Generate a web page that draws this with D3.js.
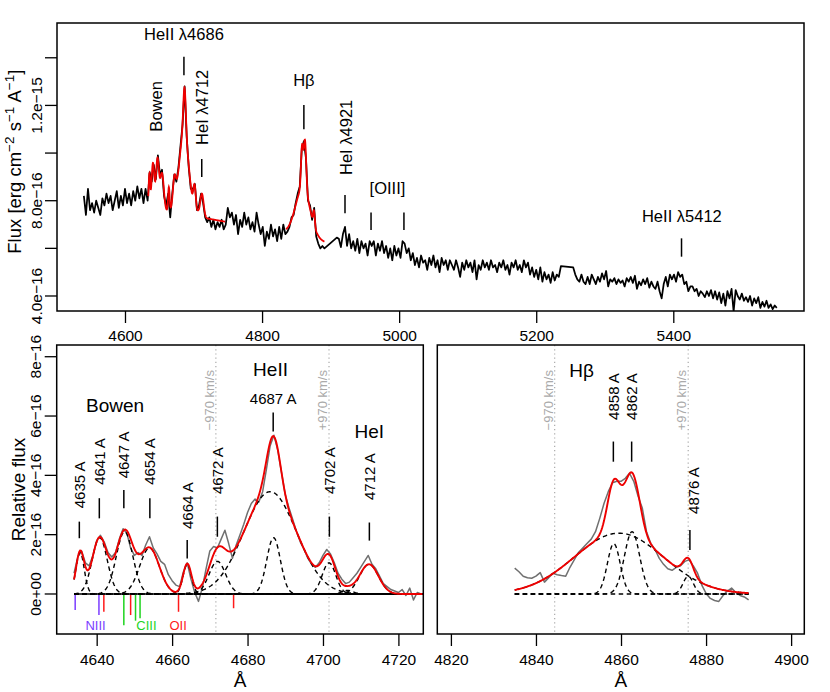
<!DOCTYPE html>
<html><head><meta charset="utf-8">
<script src="https://cdn.jsdelivr.net/npm/d3@7"></script>
<style>
body{margin:0;background:#fff;}
svg text{font-family:"Liberation Sans",Arial,Helvetica,sans-serif;fill:#000;}
</style></head><body>
<svg id="c" width="830" height="692"></svg>
<script>
// ---------------- DATA (flux in units of 1e-16) ----------------
// Top panel: observed spectrum, segments sampled every 3 A
const specStep = 3;
const specStarts = [4540, 4633, 4750, 4837, 4909, 5254];
const specSeg1 = [8.2,7.4,8.5,7.6,7.9,7.5,8.0,7.7,7.4,8.1,7.8,8.3,7.9,8.2,7.6,8.0,8.4,7.7,8.2,7.8,8.5,7.9,8.3,7.8,8.4,8.0,8.6,8.1,8.5,7.9,8.5];
const specSeg2 = [8.0,9.2,8.8,9.5,8.9,9.9,9.1,9.3,8.2,7.8,8.3,7.3,8.3,9.1,8.8,9.4,10.3,11.2,12.8,10.7,9.4,8.5,8.5,8.7,7.6,7.8,8.3,7.9,7.3,7.1,7.3,6.9,7.2,6.8,7.1,6.9,7.2,6.8,7.0];
const specSeg3 = [7.7,7.3,7.5,7.0,7.4,6.6,7.2,6.9,7.5,7.0,7.3,6.8,7.1,6.7,7.5,7.0,6.6,6.9,6.1,6.7,6.4,7.0,6.5,6.8,6.3,6.9,6.4,7.0,6.6];
const specSeg4 = [6.7,6.9,7.3,7.4,7.9,8.3,8.6,10.2,10.5,9.8,8.0,7.8,7.2,7.7,6.5,6.2,6.0,6.1,6.0];
const specSeg5 = [6.45,6.4,6.05,6.6,6.9,6.1,6.6,6.0,6.3,5.9,6.4,5.8,6.3,6.0,6.2,5.7,6.3,6.1,6.3,5.7,6.2,5.9,6.3,5.8,6.1,5.6,6.0,5.5,6.1,5.7,6.0,5.6,6.3,6.2,5.8,
 6.0,5.5,5.8,5.3,5.6,5.2,5.7,5.4,5.5,5.1,5.6,5.3,5.7,5.2,5.5,5.0,5.6,5.3,5.5,5.1,5.5,5.3,5.1,5.5,5.2,4.8,5.4,5.1,5.5,5.2,
 5.4,5.0,5.5,4.7,5.3,5.1,5.5,5.2,5.4,5.1,5.5,5.2,5.3,5.0,5.4,5.2,5.5,5.1,5.3,4.9,5.4,5.2,5.5,5.1,5.3,5.0,5.5,5.2,5.4,4.9,
 5.2,4.8,5.1,4.7,5.2,4.6,5.0,4.7,4.9,4.55,5.0,4.65,4.9,4.8,5.25];
const specSeg6 = [5.2,4.9,4.7,4.6,4.9,4.6,4.5,4.8,4.5,4.9,4.7,4.5,4.8,4.6,4.95,4.7,5.05,4.4,4.7,4.6,4.75,4.5,4.7,4.55,4.65,4.4,4.75,4.6,4.8,4.55,
 4.85,4.3,4.6,4.45,4.7,4.5,4.75,4.35,4.6,4.4,4.3,4.6,4.2,3.9,4.5,4.8,4.4,4.9,4.7,4.9,4.6,5.0,4.8,4.9,4.5,4.6,4.2,4.4,
 4.4,4.2,4.3,4.0,4.2,4.1,3.95,4.2,4.0,4.25,3.9,4.2,3.85,4.15,3.7,4.1,3.6,4.2,3.9,4.3,3.35,4.25,4.0,3.85,4.1,3.8,3.95,3.75,4.0,3.6,
 3.9,3.7,3.95,3.5,3.75,3.55,3.8,3.5,3.65,3.45,3.6,3.5];

// Continuum under the fitted regions in the top panel
const bowenFitRange = [4634, 4746];
const bowenCont = [7.70, 7.12];
const hbFitRange = [4835, 4891];
const hbCont = [6.67, 6.26];

// Top panel line identifications
const topLabels = ["HeII λ4686","Bowen","HeI λ4712","Hβ","HeI λ4921","[OIII]","HeII λ5412"];
const topLabelWave = [4686, 4645.2, 4712.8, 4861, 4923, 4983, 5412.5];
const topLabelFlux = [14.98, 10.9, 10.34, 13.06, 9.08, 8.52, 7.36];
const topLabelRotated = [false, true, true, false, true, false, false];
const topMarkWave = [4686, 4712, 4861, 4921, 4959, 5007, 5412];
const topMarkLo = [13.27, 8.99, 11.0, 7.47, 6.77, 6.77, 5.65];
const topMarkHi = [14.04, 9.75, 12.02, 8.24, 7.51, 7.51, 6.42];

// Bottom-left: observed relative flux, 1 A steps from 4634
const obsLStart = 4634;
const obsL = [0.70,1.25,1.45,1.05,0.95,1.30,1.80,1.98,1.75,1.40,1.25,1.40,1.85,2.20,2.05,1.55,1.30,1.40,1.30,1.65,
 1.93,1.55,1.35,1.10,1.00,0.65,0.45,0.30,0.25,0.75,1.05,0.50,0.05,-0.25,0.20,0.85,1.45,1.60,1.55,1.85,
 2.15,1.70,1.20,1.65,2.00,2.35,2.75,3.05,3.20,3.10,3.45,4.20,5.00,5.35,4.85,4.10,3.35,2.90,2.50,2.10,
 1.75,1.50,1.20,1.00,0.90,1.05,1.30,1.50,1.35,1.05,0.70,0.50,0.35,0.40,0.55,0.70,0.90,1.10,1.30,1.00,
 0.85,0.60,0.35,0.25,0.15,0.10,0.05,0.15,-0.05,0.20,-0.20,0.05,0.00];
// Gaussian components (center A, amplitude, sigma A)
const compCenterL = [4635.6,4640.8,4647.4,4654.0,4664.0,4672.0,4686.0,4686.9,4701.6,4706.5,4712.2];
const compAmpL    = [1.40,1.90,2.10,1.55,1.00,1.10,3.45,1.90,1.05,0.12,1.00];
const compSigmaL  = [1.1,2.0,2.2,2.6,1.1,2.2,7.0,1.8,1.8,1.5,2.5];
const fitRangeL = [4634, 4726.5];

const lineLabelsL = ["4635 A","4641 A","4647 A","4654 A","4664 A","4672 A","4702 A","4712 A"];
const lineWaveL = [4635.4,4640.7,4647.2,4654.1,4664.0,4672.0,4701.7,4712.3];
const lineTickLoL = [1.88,2.55,2.89,2.55,1.20,1.93,1.93,1.80];
const lineTickHiL = [2.44,3.23,3.51,3.23,1.82,2.61,2.61,2.41];
const lineLabelAtL = [2.89,3.68,3.90,3.68,2.19,3.37,3.37,3.17];
const heiiLine = {label:"4687 A", wave:4686.8, lo:5.48, hi:6.12, at:6.6};

const velWaveL = [4671.6, 4701.6];
const velWaveR = [4844.4, 4875.8];
const velLabels = ["−970 km/s", "+970 km/s"];

// Bowen blend components marked below the baseline
const bowenSpecies = ["NIII","NIII","OII","CIII","OII","CIII","CIII","OII","OII"];
const bowenWave  = [4634.3,4640.6,4641.9,4647.2,4649.0,4650.3,4651.5,4661.7,4676.3];
const bowenDepth = [-0.54,-0.71,-0.60,-1.05,-0.71,-0.90,-0.82,-0.60,-0.48];
const speciesNames = ["NIII","CIII","OII"];
const speciesWave = [4639.7, 4653.2, 4661.6];

// Bottom-right: H-beta
const obsRStart = 4835;
const obsR = [0.87,0.75,0.60,0.55,0.53,0.60,0.72,0.40,0.55,0.70,0.65,0.62,0.60,0.90,1.15,1.40,1.55,1.70,1.85,2.10,
 2.55,3.05,3.45,3.75,3.80,3.80,3.90,4.07,3.80,3.30,2.90,2.10,1.70,1.50,1.20,1.00,0.85,0.80,0.90,0.95,
 1.10,1.15,0.95,0.70,0.30,0.02,-0.15,-0.22,-0.25,-0.05,0.10,0.20,0.05,-0.05,-0.10,-0.20];
const compCenterR = [4859.5, 4858.3, 4862.6, 4875.8];
const compAmpR    = [2.05, 1.70, 2.10, 0.60];
const compSigmaR  = [10.5, 1.5, 1.8, 1.2];
const fitRangeR = [4835, 4890];
const lineLabelsR = ["4858 A","4862 A","4876 A"];
const lineWaveR = [4858.2, 4862.5, 4876.2];
const lineTickLoR = [4.46, 4.46, 1.48];
const lineTickHiR = [5.14, 5.14, 2.16];
const lineLabelAtR = [5.87, 5.87, 2.70];

// axis ticks
const topXTicks = [4600,4800,5000,5200,5400];
const topYTicks = [4,6,8,10,12,14];
const topYLabels = {4:"4.0e−16", 8:"8.0e−16", 12:"1.2e−15"};
const botYTicks = [0,2,4,6,8];
const botYLabels = ["0e+00","2e−16","4e−16","6e−16","8e−16"];
const blXTicks = [4640,4660,4680,4700,4720];
const brXTicks = [4820,4840,4860,4880,4900];

// ---------------- DRAWING ----------------
const svg = d3.select("#c");
const FS = 15.5;
const speciesColor = {NIII:"#7b3dff", CIII:"#1ed41e", OII:"#ff1a1a"};
const RED = "#ee0000";

function gauss(l, c, a, s){ return a*Math.exp(-(l-c)*(l-c)/(2*s*s)); }
function model(l, C, A, S){ let v=0; for(let i=0;i<C.length;i++) v+=gauss(l,C[i],A[i],S[i]); return v; }
function grid(a,b,st){ const r=[]; for(let l=a;l<=b+1e-9;l+=st) r.push(l); return r; }

function clip(id,x0,y0,x1,y1){
  svg.append("clipPath").attr("id",id).append("rect").attr("x",x0).attr("y",y0).attr("width",x1-x0).attr("height",y1-y0);
}
function box(x0,y0,x1,y1){
  svg.append("rect").attr("x",x0).attr("y",y0).attr("width",x1-x0).attr("height",y1-y0)
    .attr("fill","none").attr("stroke","#000").attr("stroke-width",1.5);
}
function xAxis(scale, ticks, y, labelBaseline){
  const g = svg.append("g").attr("transform",`translate(0,${y})`)
    .call(d3.axisBottom(scale).tickValues(ticks).tickSize(12).tickFormat(d3.format("d")));
  g.select(".domain").remove();
  g.selectAll("line").attr("stroke","#000").attr("stroke-width",1.3);
  g.selectAll("text").attr("y",labelBaseline).attr("dy",null).attr("font-size",FS)
   .attr("font-family","'Liberation Sans',Arial,sans-serif").attr("fill","#000");
}
function yAxis(scale, ticks, labels, x){
  const g = svg.append("g");
  ticks.forEach((t,i)=>{
    g.append("line").attr("x1",x-12).attr("x2",x).attr("y1",scale(t)).attr("y2",scale(t))
      .attr("stroke","#000").attr("stroke-width",1.3);
    const lab = labels(t,i);
    if(lab) g.append("text").attr("transform",`translate(${x-15.5},${scale(t)}) rotate(-90)`)
      .attr("text-anchor","middle").attr("font-size",FS).text(lab);
  });
}
function rotText(x,y,txt,size,anchor,color){
  return svg.append("text").attr("transform",`translate(${x},${y}) rotate(-90)`)
    .attr("text-anchor",anchor).attr("dominant-baseline","central")
    .attr("font-size",size).style("fill",color||"#000").text(txt);
}

// ===== TOP PANEL =====
const tX = d3.scaleLinear().domain([4500.8,5590.7]).range([57,804]);
const tY = d3.scaleLinear().domain([3.37,15.46]).range([311,23]);
clip("cTop",57,23,804,311);
const segs = [specSeg1,specSeg2,specSeg3,specSeg4,specSeg5,specSeg6];
const specPts = segs.flatMap((s,k)=>s.map((v,i)=>[specStarts[k]+specStep*i, v]));
const line = (sx,sy)=>d3.line().x(d=>sx(d[0])).y(d=>sy(d[1]));
svg.append("path").datum(specPts).attr("d",line(tX,tY)).attr("clip-path","url(#cTop)")
  .attr("fill","none").attr("stroke","#000").attr("stroke-width",1.75).attr("stroke-linejoin","round");
function topFit(range, cont, C, A, S){
  const pts = grid(range[0],range[1],0.25).map(l=>{
    const c = cont[0]+(cont[1]-cont[0])*(l-range[0])/(range[1]-range[0]);
    return [l, c+model(l,C,A,S)];
  });
  svg.append("path").datum(pts).attr("d",line(tX,tY)).attr("fill","none")
    .attr("stroke",RED).attr("stroke-width",1.8);
}
topFit(bowenFitRange,bowenCont,compCenterL,compAmpL,compSigmaL);
topFit(hbFitRange,hbCont,compCenterR,compAmpR,compSigmaR);
topMarkWave.forEach((w,i)=>{
  svg.append("line").attr("x1",tX(w)).attr("x2",tX(w)).attr("y1",tY(topMarkLo[i])).attr("y2",tY(topMarkHi[i]))
    .attr("stroke","#000").attr("stroke-width",1.5);
});
topLabels.forEach((t,i)=>{
  if(topLabelRotated[i]) rotText(tX(topLabelWave[i]),tY(topLabelFlux[i]),t,16.5,"start");
  else svg.append("text").attr("x",tX(topLabelWave[i])).attr("y",tY(topLabelFlux[i]))
    .attr("text-anchor","middle").attr("dominant-baseline","central").attr("font-size",16.5).text(t);
});
box(57,23,804,311);
xAxis(tX, topXTicks, 311, 30);
yAxis(tY, topYTicks, t=>topYLabels[t]||null, 57);
// y title with superscripts
{
  const t = svg.append("text").attr("transform","translate(21,161.7) rotate(-90)")
    .attr("text-anchor","middle").attr("font-size",18.5);
  t.append("tspan").text("Flux [erg cm");
  t.append("tspan").attr("dy",-7).attr("font-size",13.5).text("−2");
  t.append("tspan").attr("dy",7).text(" s");
  t.append("tspan").attr("dy",-7).attr("font-size",13.5).text("−1");
  t.append("tspan").attr("dy",7).text(" A");
  t.append("tspan").attr("dy",-7).attr("font-size",13.5).text("−1");
  t.append("tspan").attr("dy",7).text("]");
}

// ===== BOTTOM PANELS =====
const bY = d3.scaleLinear().domain([-1.349,8.395]).range([634,345]);
const lX = d3.scaleLinear().domain([4629.4,4726.6]).range([56.7,423.3]);
const rX = d3.scaleLinear().domain([4816.8,4903.1]).range([437.3,804.3]);
clip("cL",56.7,345,423.3,634);
clip("cR",437.3,345,804.3,634);

function velocity(sx, waves){
  waves.forEach((w,i)=>{
    svg.append("line").attr("x1",sx(w)).attr("x2",sx(w)).attr("y1",345).attr("y2",634)
      .attr("stroke","#aaaaaa").attr("stroke-width",1.2).attr("stroke-dasharray","1.2,3");
    rotText(sx(w)-6.5, bY(7.55), velLabels[i], 13, "end", "#aaaaaa");
  });
}
function panel(sx, clipId, obsStart, obs, C, A, S, range){
  const g = svg.append("g").attr("clip-path",`url(#${clipId})`);
  const obsPts = obs.map((v,i)=>[obsStart+i, v]);
  g.append("path").datum(obsPts).attr("d",line(sx,bY)).attr("fill","none")
    .attr("stroke","#707070").attr("stroke-width",1.5).attr("stroke-linejoin","round");
  const gl = grid(range[0],range[1],0.2);
  C.forEach((c,i)=>{
    g.append("path").datum(gl.map(l=>[l,gauss(l,c,A[i],S[i])])).attr("d",line(sx,bY))
      .attr("fill","none").attr("stroke","#000").attr("stroke-width",1.4).attr("stroke-dasharray","4.5,3.5");
  });
  return {g, gl};
}
// left
velocity(lX, velWaveL);
const L = panel(lX,"cL",obsLStart,obsL,compCenterL,compAmpL,compSigmaL,fitRangeL);
L.g.append("line").attr("x1",lX(fitRangeL[0])).attr("x2",lX(fitRangeL[1])).attr("y1",bY(0)).attr("y2",bY(0))
  .attr("stroke","#000").attr("stroke-width",1.4);
L.g.append("path").datum(L.gl.map(l=>[l,model(l,compCenterL,compAmpL,compSigmaL)])).attr("d",line(lX,bY))
  .attr("fill","none").attr("stroke",RED).attr("stroke-width",1.9);
bowenWave.forEach((w,i)=>{
  svg.append("line").attr("x1",lX(w)).attr("x2",lX(w)).attr("y1",bY(-0.03)).attr("y2",bY(bowenDepth[i]))
    .attr("stroke",speciesColor[bowenSpecies[i]]).attr("stroke-width",1.5);
});
speciesNames.forEach((s,i)=>{
  svg.append("text").attr("x",lX(speciesWave[i])).attr("y",bY(-1.07)).attr("text-anchor","middle")
    .attr("dominant-baseline","central").attr("font-size",13).style("fill",speciesColor[s]).text(s);
});
lineWaveL.forEach((w,i)=>{
  svg.append("line").attr("x1",lX(w)).attr("x2",lX(w)).attr("y1",bY(lineTickLoL[i])).attr("y2",bY(lineTickHiL[i]))
    .attr("stroke","#000").attr("stroke-width",1.5);
  rotText(lX(w), bY(lineLabelAtL[i]), lineLabelsL[i], 15, "start");
});
svg.append("line").attr("x1",lX(heiiLine.wave)).attr("x2",lX(heiiLine.wave)).attr("y1",bY(heiiLine.lo)).attr("y2",bY(heiiLine.hi))
  .attr("stroke","#000").attr("stroke-width",1.5);
svg.append("text").attr("x",lX(heiiLine.wave)).attr("y",bY(heiiLine.at)).attr("text-anchor","middle")
  .attr("dominant-baseline","central").attr("font-size",15).text(heiiLine.label);
[["Bowen",4644.9,6.37],["HeII",4686.1,7.58],["HeI",4712.3,5.47]].forEach(d=>{
  svg.append("text").attr("x",lX(d[1])).attr("y",bY(d[2])).attr("text-anchor","middle")
    .attr("dominant-baseline","central").attr("font-size",19).text(d[0]);
});
box(56.7,345,423.3,634);
xAxis(lX, blXTicks, 634, 31);
yAxis(bY, botYTicks, (t,i)=>botYLabels[i], 56.7);
svg.append("text").attr("transform","translate(25,489.5) rotate(-90)").attr("text-anchor","middle")
  .attr("font-size",19).text("Relative flux");
svg.append("text").attr("x",240).attr("y",687).attr("text-anchor","middle").attr("font-size",19).text("Å");

// right
velocity(rX, velWaveR);
const R = panel(rX,"cR",obsRStart,obsR,compCenterR,compAmpR,compSigmaR,fitRangeR);
R.g.append("path").datum(R.gl.map(l=>[l,model(l,compCenterR,compAmpR,compSigmaR)])).attr("d",line(rX,bY))
  .attr("fill","none").attr("stroke",RED).attr("stroke-width",1.9);
lineWaveR.forEach((w,i)=>{
  svg.append("line").attr("x1",rX(w)).attr("x2",rX(w)).attr("y1",bY(lineTickLoR[i])).attr("y2",bY(lineTickHiR[i]))
    .attr("stroke","#000").attr("stroke-width",1.5);
  rotText(rX(w)+(i===2?4:0), bY(lineLabelAtR[i]), lineLabelsR[i], 15, "start");
});
svg.append("text").attr("x",rX(4850.75)).attr("y",bY(7.55)).attr("text-anchor","middle")
  .attr("dominant-baseline","central").attr("font-size",19).text("Hβ");
box(437.3,345,804.3,634);
xAxis(rX, brXTicks, 634, 31);
svg.append("text").attr("x",620.8).attr("y",687).attr("text-anchor","middle").attr("font-size",19).text("Å");
</script></body></html>
